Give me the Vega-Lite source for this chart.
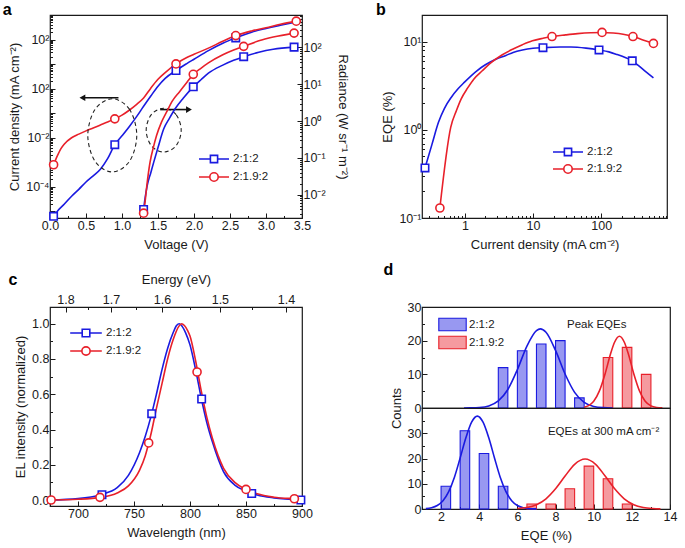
{
  "$schema": "https://vega.github.io/schema/vega-lite/v6.json",
  "padding": {"left": 2, "top": 1, "right": 0, "bottom": 0},
  "background": "white",
  "datasets": {
    "aJ": [
      {"s":"2:1:2","V":0.05,"J":6.31e-6},{"s":"2:1:2","V":0.1,"J":1.0e-5},{"s":"2:1:2","V":0.2,"J":2.0e-5},{"s":"2:1:2","V":0.3,"J":4.17e-5},{"s":"2:1:2","V":0.4,"J":7.94e-5},{"s":"2:1:2","V":0.5,"J":1.58e-4},{"s":"2:1:2","V":0.6,"J":2.82e-4},{"s":"2:1:2","V":0.7,"J":5.25e-4},{"s":"2:1:2","V":0.8,"J":1.41e-3},{"s":"2:1:2","V":0.9,"J":5.25e-3},{"s":"2:1:2","V":1.0,"J":0.012},{"s":"2:1:2","V":1.1,"J":0.0282},{"s":"2:1:2","V":1.2,"J":0.0708},{"s":"2:1:2","V":1.3,"J":0.191},{"s":"2:1:2","V":1.4,"J":0.501},{"s":"2:1:2","V":1.5,"J":1.26},{"s":"2:1:2","V":1.6,"J":2.63},{"s":"2:1:2","V":1.75,"J":5.5},{"s":"2:1:2","V":1.9,"J":10.5},{"s":"2:1:2","V":2.0,"J":15.8},{"s":"2:1:2","V":2.2,"J":35.5},{"s":"2:1:2","V":2.4,"J":70.8},{"s":"2:1:2","V":2.58,"J":117},{"s":"2:1:2","V":2.8,"J":200},{"s":"2:1:2","V":3.0,"J":282},{"s":"2:1:2","V":3.2,"J":380},{"s":"2:1:2","V":3.42,"J":525},
      {"s":"2:1.9:2","V":0.05,"J":7.94e-4},{"s":"2:1.9:2","V":0.1,"J":1.78e-3},{"s":"2:1.9:2","V":0.15,"J":3.55e-3},{"s":"2:1.9:2","V":0.2,"J":5.62e-3},{"s":"2:1.9:2","V":0.3,"J":0.01},{"s":"2:1.9:2","V":0.4,"J":0.0141},{"s":"2:1.9:2","V":0.5,"J":0.0191},{"s":"2:1.9:2","V":0.6,"J":0.0251},{"s":"2:1.9:2","V":0.7,"J":0.0331},{"s":"2:1.9:2","V":0.8,"J":0.0437},{"s":"2:1.9:2","V":0.9,"J":0.0589},{"s":"2:1.9:2","V":1.0,"J":0.0832},{"s":"2:1.9:2","V":1.1,"J":0.132},{"s":"2:1.9:2","V":1.2,"J":0.224},{"s":"2:1.9:2","V":1.3,"J":0.417},{"s":"2:1.9:2","V":1.4,"J":1.05},{"s":"2:1.9:2","V":1.5,"J":2.4},{"s":"2:1.9:2","V":1.6,"J":4.47},{"s":"2:1.9:2","V":1.75,"J":10.2},{"s":"2:1.9:2","V":1.9,"J":18.6},{"s":"2:1.9:2","V":2.0,"J":25.1},{"s":"2:1.9:2","V":2.2,"J":44.7},{"s":"2:1.9:2","V":2.4,"J":85.1},{"s":"2:1.9:2","V":2.58,"J":145},{"s":"2:1.9:2","V":2.8,"J":224},{"s":"2:1.9:2","V":3.0,"J":302},{"s":"2:1.9:2","V":3.2,"J":417},{"s":"2:1.9:2","V":3.42,"J":562}
    ],
    "aJm": [
      {"s":"2:1:2","V":0.05,"J":6.31e-6},{"s":"2:1:2","V":0.9,"J":5.25e-3},{"s":"2:1:2","V":1.75,"J":5.5},{"s":"2:1:2","V":2.58,"J":117},
      {"s":"2:1.9:2","V":0.05,"J":7.94e-4},{"s":"2:1.9:2","V":0.9,"J":0.0589},{"s":"2:1.9:2","V":1.75,"J":10.2},{"s":"2:1.9:2","V":2.58,"J":145},{"s":"2:1.9:2","V":3.42,"J":562}
    ],
    "aR": [
      {"s":"2:1:2","V":1.3,"R":3.98e-3},{"s":"2:1:2","V":1.32,"R":7.94e-3},{"s":"2:1:2","V":1.35,"R":0.0178},{"s":"2:1:2","V":1.4,"R":0.0398},{"s":"2:1:2","V":1.44,"R":0.0759},{"s":"2:1:2","V":1.5,"R":0.191},{"s":"2:1:2","V":1.58,"R":0.617},{"s":"2:1:2","V":1.66,"R":1.2},{"s":"2:1:2","V":1.74,"R":2.19},{"s":"2:1:2","V":1.85,"R":4.17},{"s":"2:1:2","V":1.99,"R":8.51},{"s":"2:1:2","V":2.1,"R":13.5},{"s":"2:1:2","V":2.2,"R":20.0},{"s":"2:1:2","V":2.4,"R":33.1},{"s":"2:1:2","V":2.55,"R":44.7},{"s":"2:1:2","V":2.69,"R":56.2},{"s":"2:1:2","V":2.9,"R":74.1},{"s":"2:1:2","V":3.1,"R":89.1},{"s":"2:1:2","V":3.39,"R":102},
      {"s":"2:1.9:2","V":1.3,"R":3.16e-3},{"s":"2:1.9:2","V":1.32,"R":6.31e-3},{"s":"2:1.9:2","V":1.345,"R":0.0178},{"s":"2:1.9:2","V":1.39,"R":0.0776},{"s":"2:1.9:2","V":1.44,"R":0.209},{"s":"2:1.9:2","V":1.48,"R":0.407},{"s":"2:1.9:2","V":1.55,"R":0.955},{"s":"2:1.9:2","V":1.62,"R":1.78},{"s":"2:1.9:2","V":1.7,"R":3.55},{"s":"2:1.9:2","V":1.8,"R":6.31},{"s":"2:1.9:2","V":1.9,"R":11.2},{"s":"2:1.9:2","V":1.99,"R":18.6},{"s":"2:1.9:2","V":2.1,"R":27.5},{"s":"2:1.9:2","V":2.2,"R":38.0},{"s":"2:1.9:2","V":2.4,"R":63.1},{"s":"2:1.9:2","V":2.55,"R":85.1},{"s":"2:1.9:2","V":2.69,"R":107},{"s":"2:1.9:2","V":2.9,"R":151},{"s":"2:1.9:2","V":3.1,"R":191},{"s":"2:1.9:2","V":3.39,"R":245}
    ],
    "aRm": [
      {"s":"2:1:2","V":1.3,"R":3.98e-3},{"s":"2:1:2","V":1.99,"R":8.51},{"s":"2:1:2","V":2.69,"R":56.2},{"s":"2:1:2","V":3.39,"R":102},
      {"s":"2:1.9:2","V":1.3,"R":3.16e-3},{"s":"2:1.9:2","V":1.99,"R":18.6},{"s":"2:1.9:2","V":2.69,"R":107},{"s":"2:1.9:2","V":3.39,"R":245}
    ],
    "aEll": [
      {"id":"L","k":0,"V":1.205,"J":0.0126},{"id":"L","k":1,"V":1.105,"J":0.1426},{"id":"L","k":2,"V":0.865,"J":0.389},{"id":"L","k":3,"V":0.625,"J":0.1426},{"id":"L","k":4,"V":0.525,"J":0.0126},{"id":"L","k":5,"V":0.625,"J":1.11e-3},{"id":"L","k":6,"V":0.865,"J":4.07e-4},{"id":"L","k":7,"V":1.105,"J":1.11e-3},
      {"id":"R","k":0,"V":1.822,"J":0.0204},{"id":"R","k":1,"V":1.751,"J":0.0875},{"id":"R","k":2,"V":1.579,"J":0.16},{"id":"R","k":3,"V":1.407,"J":0.0875},{"id":"R","k":4,"V":1.336,"J":0.0204},{"id":"R","k":5,"V":1.407,"J":4.76e-3},{"id":"R","k":6,"V":1.579,"J":2.61e-3},{"id":"R","k":7,"V":1.751,"J":4.76e-3}
    ],
    "bC": [
      {"s":"2:1:2","J":0.26,"E":0.37},{"s":"2:1:2","J":0.33,"E":0.69},{"s":"2:1:2","J":0.41,"E":1.22},{"s":"2:1:2","J":0.5,"E":1.75},{"s":"2:1:2","J":0.63,"E":2.34},{"s":"2:1:2","J":0.8,"E":2.95},{"s":"2:1:2","J":0.98,"E":3.47},{"s":"2:1:2","J":1.5,"E":4.7},{"s":"2:1:2","J":2.0,"E":5.5},{"s":"2:1:2","J":2.9,"E":6.4},{"s":"2:1:2","J":4.0,"E":7.0},{"s":"2:1:2","J":5.1,"E":7.6},{"s":"2:1:2","J":7.0,"E":8.1},{"s":"2:1:2","J":10,"E":8.45},{"s":"2:1:2","J":14,"E":8.6},{"s":"2:1:2","J":25,"E":8.75},{"s":"2:1:2","J":36,"E":8.75},{"s":"2:1:2","J":60,"E":8.5},{"s":"2:1:2","J":93,"E":8.1},{"s":"2:1:2","J":130,"E":7.7},{"s":"2:1:2","J":170,"E":7.2},{"s":"2:1:2","J":230,"E":6.6},{"s":"2:1:2","J":286,"E":6.1},{"s":"2:1:2","J":350,"E":5.4},{"s":"2:1:2","J":450,"E":4.6},{"s":"2:1:2","J":585,"E":3.9},
      {"s":"2:1.9:2","J":0.43,"E":0.13},{"s":"2:1.9:2","J":0.62,"E":1.07},{"s":"2:1.9:2","J":0.75,"E":1.65},{"s":"2:1.9:2","J":0.88,"E":2.24},{"s":"2:1.9:2","J":1.1,"E":3.0},{"s":"2:1.9:2","J":1.36,"E":3.8},{"s":"2:1.9:2","J":1.8,"E":4.7},{"s":"2:1.9:2","J":2.35,"E":5.7},{"s":"2:1.9:2","J":3.5,"E":7.1},{"s":"2:1.9:2","J":5.1,"E":8.3},{"s":"2:1.9:2","J":7,"E":9.3},{"s":"2:1.9:2","J":9.8,"E":10.3},{"s":"2:1.9:2","J":14,"E":11.0},{"s":"2:1.9:2","J":19,"E":11.5},{"s":"2:1.9:2","J":30,"E":12.0},{"s":"2:1.9:2","J":45,"E":12.4},{"s":"2:1.9:2","J":70,"E":12.7},{"s":"2:1.9:2","J":103,"E":12.8},{"s":"2:1.9:2","J":150,"E":12.6},{"s":"2:1.9:2","J":210,"E":12.2},{"s":"2:1.9:2","J":293,"E":11.5},{"s":"2:1.9:2","J":400,"E":10.6},{"s":"2:1.9:2","J":585,"E":9.6}
    ],
    "bM": [
      {"s":"2:1:2","J":0.26,"E":0.37},{"s":"2:1:2","J":14,"E":8.6},{"s":"2:1:2","J":93,"E":8.1},{"s":"2:1:2","J":286,"E":6.1},
      {"s":"2:1.9:2","J":0.43,"E":0.13},{"s":"2:1.9:2","J":19,"E":11.5},{"s":"2:1.9:2","J":103,"E":12.8},{"s":"2:1.9:2","J":293,"E":11.5},{"s":"2:1.9:2","J":585,"E":9.6}
    ],
    "cC": [
      {"s":"2:1:2","nm":675,"I":0.0},{"s":"2:1:2","nm":700,"I":0.008},{"s":"2:1:2","nm":720,"I":0.03},{"s":"2:1:2","nm":735,"I":0.07},{"s":"2:1:2","nm":745,"I":0.14},{"s":"2:1:2","nm":755,"I":0.27},{"s":"2:1:2","nm":760,"I":0.36},{"s":"2:1:2","nm":765,"I":0.47},{"s":"2:1:2","nm":770,"I":0.6},{"s":"2:1:2","nm":775,"I":0.74},{"s":"2:1:2","nm":780,"I":0.86},{"s":"2:1:2","nm":785,"I":0.95},{"s":"2:1:2","nm":788,"I":0.99},{"s":"2:1:2","nm":790.5,"I":1.0},{"s":"2:1:2","nm":793,"I":0.985},{"s":"2:1:2","nm":796,"I":0.95},{"s":"2:1:2","nm":800,"I":0.88},{"s":"2:1:2","nm":805,"I":0.74},{"s":"2:1:2","nm":810,"I":0.58},{"s":"2:1:2","nm":815,"I":0.44},{"s":"2:1:2","nm":820,"I":0.33},{"s":"2:1:2","nm":830,"I":0.16},{"s":"2:1:2","nm":840,"I":0.085},{"s":"2:1:2","nm":850,"I":0.05},{"s":"2:1:2","nm":860,"I":0.028},{"s":"2:1:2","nm":875,"I":0.012},{"s":"2:1:2","nm":899,"I":0.001},
      {"s":"2:1.9:2","nm":676,"I":0.0},{"s":"2:1.9:2","nm":700,"I":0.004},{"s":"2:1.9:2","nm":720,"I":0.015},{"s":"2:1.9:2","nm":735,"I":0.04},{"s":"2:1.9:2","nm":745,"I":0.08},{"s":"2:1.9:2","nm":755,"I":0.17},{"s":"2:1.9:2","nm":760,"I":0.25},{"s":"2:1.9:2","nm":763,"I":0.32},{"s":"2:1.9:2","nm":765,"I":0.37},{"s":"2:1.9:2","nm":770,"I":0.52},{"s":"2:1.9:2","nm":775,"I":0.66},{"s":"2:1.9:2","nm":780,"I":0.8},{"s":"2:1.9:2","nm":785,"I":0.91},{"s":"2:1.9:2","nm":790,"I":0.985},{"s":"2:1.9:2","nm":792.5,"I":1.0},{"s":"2:1.9:2","nm":795,"I":0.99},{"s":"2:1.9:2","nm":798,"I":0.96},{"s":"2:1.9:2","nm":800,"I":0.93},{"s":"2:1.9:2","nm":805,"I":0.79},{"s":"2:1.9:2","nm":810,"I":0.62},{"s":"2:1.9:2","nm":815,"I":0.47},{"s":"2:1.9:2","nm":820,"I":0.35},{"s":"2:1.9:2","nm":830,"I":0.18},{"s":"2:1.9:2","nm":840,"I":0.1},{"s":"2:1.9:2","nm":850,"I":0.06},{"s":"2:1.9:2","nm":860,"I":0.035},{"s":"2:1.9:2","nm":875,"I":0.016},{"s":"2:1.9:2","nm":893,"I":0.007},{"s":"2:1.9:2","nm":900,"I":0.004}
    ],
    "cM": [
      {"s":"2:1:2","nm":721.4,"I":0.03},{"s":"2:1:2","nm":765.8,"I":0.49},{"s":"2:1:2","nm":810.4,"I":0.573},{"s":"2:1:2","nm":855.1,"I":0.037},{"s":"2:1:2","nm":899,"I":0.0},
      {"s":"2:1.9:2","nm":676,"I":0.0},{"s":"2:1.9:2","nm":719.6,"I":0.015},{"s":"2:1.9:2","nm":763.1,"I":0.324},{"s":"2:1.9:2","nm":806.3,"I":0.726},{"s":"2:1.9:2","nm":850,"I":0.06},{"s":"2:1.9:2","nm":893.2,"I":0.007}
    ],
    "dBars": [
      {"sub":"peak","s":"2:1:2","lo":5,"hi":5.5,"n":12},{"sub":"peak","s":"2:1:2","lo":6,"hi":6.5,"n":17},{"sub":"peak","s":"2:1:2","lo":7,"hi":7.5,"n":19},{"sub":"peak","s":"2:1:2","lo":8,"hi":8.5,"n":20},{"sub":"peak","s":"2:1:2","lo":9,"hi":9.5,"n":3},
      {"sub":"peak","s":"2:1.9:2","lo":10.5,"hi":11,"n":15},{"sub":"peak","s":"2:1.9:2","lo":11.5,"hi":12,"n":18},{"sub":"peak","s":"2:1.9:2","lo":12.5,"hi":13,"n":10},
      {"sub":"300","s":"2:1:2","lo":2,"hi":2.5,"n":9},{"sub":"300","s":"2:1:2","lo":3,"hi":3.5,"n":31},{"sub":"300","s":"2:1:2","lo":4,"hi":4.5,"n":22},{"sub":"300","s":"2:1:2","lo":5,"hi":5.5,"n":9},
      {"sub":"300","s":"2:1.9:2","lo":6.5,"hi":7,"n":2},{"sub":"300","s":"2:1.9:2","lo":7.5,"hi":8,"n":2},{"sub":"300","s":"2:1.9:2","lo":8.5,"hi":9,"n":8},{"sub":"300","s":"2:1.9:2","lo":9.5,"hi":10,"n":17},{"sub":"300","s":"2:1.9:2","lo":10.5,"hi":11,"n":12},{"sub":"300","s":"2:1.9:2","lo":11.5,"hi":12,"n":2}
    ],
    "dFit": [
      {"sub":"peak","s":"2:1:2","x":3.2,"n":0.0},{"sub":"peak","s":"2:1:2","x":3.5,"n":0.03},{"sub":"peak","s":"2:1:2","x":4.0,"n":0.14},{"sub":"peak","s":"2:1:2","x":4.5,"n":0.61},{"sub":"peak","s":"2:1:2","x":5.0,"n":2.1},{"sub":"peak","s":"2:1:2","x":5.5,"n":5.5},{"sub":"peak","s":"2:1:2","x":6.0,"n":11.4},{"sub":"peak","s":"2:1:2","x":6.5,"n":18.4},{"sub":"peak","s":"2:1:2","x":7.0,"n":23.0},{"sub":"peak","s":"2:1:2","x":7.2,"n":23.5},{"sub":"peak","s":"2:1:2","x":7.5,"n":22.5},{"sub":"peak","s":"2:1:2","x":8.0,"n":17.1},{"sub":"peak","s":"2:1:2","x":8.5,"n":10.1},{"sub":"peak","s":"2:1:2","x":9.0,"n":4.65},{"sub":"peak","s":"2:1:2","x":9.5,"n":1.67},{"sub":"peak","s":"2:1:2","x":10.0,"n":0.47},{"sub":"peak","s":"2:1:2","x":10.5,"n":0.1},{"sub":"peak","s":"2:1:2","x":11.0,"n":0.02},
      {"sub":"peak","s":"2:1.9:2","x":9.5,"n":0.25},{"sub":"peak","s":"2:1.9:2","x":9.8,"n":0.94},{"sub":"peak","s":"2:1.9:2","x":10.0,"n":1.99},{"sub":"peak","s":"2:1.9:2","x":10.3,"n":5.08},{"sub":"peak","s":"2:1.9:2","x":10.6,"n":10.2},{"sub":"peak","s":"2:1.9:2","x":10.9,"n":16.4},{"sub":"peak","s":"2:1.9:2","x":11.1,"n":19.6},{"sub":"peak","s":"2:1.9:2","x":11.35,"n":21.3},{"sub":"peak","s":"2:1.9:2","x":11.6,"n":19.6},{"sub":"peak","s":"2:1.9:2","x":11.8,"n":16.4},{"sub":"peak","s":"2:1.9:2","x":12.1,"n":10.2},{"sub":"peak","s":"2:1.9:2","x":12.4,"n":5.08},{"sub":"peak","s":"2:1.9:2","x":12.7,"n":1.99},{"sub":"peak","s":"2:1.9:2","x":13.0,"n":0.62},{"sub":"peak","s":"2:1.9:2","x":13.3,"n":0.15},{"sub":"peak","s":"2:1.9:2","x":13.6,"n":0.03},
      {"sub":"300","s":"2:1:2","x":1.2,"n":0.15},{"sub":"300","s":"2:1:2","x":1.5,"n":0.51},{"sub":"300","s":"2:1:2","x":1.8,"n":1.39},{"sub":"300","s":"2:1:2","x":2.1,"n":3.3},{"sub":"300","s":"2:1:2","x":2.4,"n":6.9},{"sub":"300","s":"2:1:2","x":2.7,"n":12.6},{"sub":"300","s":"2:1:2","x":3.0,"n":20.2},{"sub":"300","s":"2:1:2","x":3.3,"n":28.2},{"sub":"300","s":"2:1:2","x":3.6,"n":34.4},{"sub":"300","s":"2:1:2","x":3.9,"n":36.8},{"sub":"300","s":"2:1:2","x":4.2,"n":34.4},{"sub":"300","s":"2:1:2","x":4.5,"n":28.2},{"sub":"300","s":"2:1:2","x":4.8,"n":20.2},{"sub":"300","s":"2:1:2","x":5.1,"n":12.6},{"sub":"300","s":"2:1:2","x":5.4,"n":6.9},{"sub":"300","s":"2:1:2","x":5.7,"n":3.3},{"sub":"300","s":"2:1:2","x":6.0,"n":1.39},{"sub":"300","s":"2:1:2","x":6.3,"n":0.51},{"sub":"300","s":"2:1:2","x":6.6,"n":0.16},{"sub":"300","s":"2:1:2","x":7.0,"n":0.03},
      {"sub":"300","s":"2:1.9:2","x":6.0,"n":0.17},{"sub":"300","s":"2:1.9:2","x":6.5,"n":0.59},{"sub":"300","s":"2:1.9:2","x":7.0,"n":1.69},{"sub":"300","s":"2:1.9:2","x":7.5,"n":4.04},{"sub":"300","s":"2:1.9:2","x":8.0,"n":7.99},{"sub":"300","s":"2:1.9:2","x":8.5,"n":13.05},{"sub":"300","s":"2:1.9:2","x":9.0,"n":17.7},{"sub":"300","s":"2:1.9:2","x":9.55,"n":19.8},{"sub":"300","s":"2:1.9:2","x":10.1,"n":17.7},{"sub":"300","s":"2:1.9:2","x":10.6,"n":13.05},{"sub":"300","s":"2:1.9:2","x":11.1,"n":7.99},{"sub":"300","s":"2:1.9:2","x":11.6,"n":4.04},{"sub":"300","s":"2:1.9:2","x":12.1,"n":1.69},{"sub":"300","s":"2:1.9:2","x":12.6,"n":0.59},{"sub":"300","s":"2:1.9:2","x":13.1,"n":0.17},{"sub":"300","s":"2:1.9:2","x":13.5,"n":0.05}
    ]
  },
  "concat": [
    {
      "title": {"text": "a", "dx": -6, "offset": -9},
      "width": 252, "height": 203,
      "layer": [
        {"layer": [
          {"data": {"name": "aJ"}, "mark": {"type": "line", "strokeWidth": 1.6, "interpolate": "monotone"},
           "encoding": {
             "x": {"field": "V", "type": "quantitative", "scale": {"domain": [0, 3.5], "nice": false, "zero": false},
               "axis": {"values": [0, 0.25, 0.5, 0.75, 1, 1.25, 1.5, 1.75, 2, 2.25, 2.5, 2.75, 3, 3.25, 3.5], "tickCount": 100, "labelExpr": "(datum.value*2) % 1 == 0 ? format(datum.value, '.1f') : ''", "tickSize": {"condition": {"test": "(datum.value*2) % 1 == 0", "value": -5}, "value": -2.5}, "labelOverlap": false, "title": "Voltage (V)"}},
             "y": {"field": "J", "type": "quantitative", "scale": {"type": "log", "domain": [5.4e-6, 1000], "nice": false},
               "axis": {"values": [6e-6,7e-6,8e-6,9e-6,1e-5,2e-5,3e-5,4e-5,5e-5,6e-5,7e-5,8e-5,9e-5,1e-4,2e-4,3e-4,4e-4,5e-4,6e-4,7e-4,8e-4,9e-4,1e-3,2e-3,3e-3,4e-3,5e-3,6e-3,7e-3,8e-3,9e-3,0.01,0.02,0.03,0.04,0.05,0.06,0.07,0.08,0.09,0.1,0.2,0.3,0.4,0.5,0.6,0.7,0.8,0.9,1,2,3,4,5,6,7,8,9,10,20,30,40,50,60,70,80,90,100,200,300,400,500,600,700,800,900,1000], "tickCount": 200,
                 "labelExpr": "datum.value == 100 ? '10²' : datum.value == 1 ? '10²' : datum.value == 0.01 ? '10⁻²' : datum.value == 0.0001 ? '10⁻⁴' : ''",
                 "tickSize": {"condition": {"test": "abs(log(datum.value)/LN10 - round(log(datum.value)/LN10)) < 0.01", "value": -5}, "value": -2.5}, "labelOverlap": false, "title": "Current density (mA cm⁻²)"}},
             "stroke": {"field": "s", "type": "nominal", "scale": {"domain": ["2:1:2", "2:1.9:2"], "range": ["#1a1ae0", "#e8202a"]}, "legend": null}
           }},
          {"data": {"name": "aJm"}, "transform": [{"filter": "datum.s == '2:1:2'"}], "mark": {"type": "point", "shape": "square", "filled": true, "fill": "white", "strokeWidth": 1.6, "size": 55, "opacity": 1},
           "encoding": {
             "x": {"field": "V", "type": "quantitative"},
             "y": {"field": "J", "type": "quantitative"},
             "stroke": {"field": "s", "type": "nominal", "legend": {"values": ["2:1:2"], "title": null, "orient": "none", "legendX": 148, "legendY": 128, "symbolType": "M-1,0H-0.24M0.24,0H1M-0.24,-0.24H0.24V0.24H-0.24Z", "symbolSize": 900, "symbolFillColor": "white", "symbolStrokeWidth": 1.6, "labelOffset": 3, "labelFontSize": 11.5}}
           }},
          {"data": {"name": "aJm"}, "transform": [{"filter": "datum.s == '2:1.9:2'"}], "mark": {"type": "point", "shape": "circle", "filled": true, "fill": "white", "strokeWidth": 1.6, "size": 65, "opacity": 1},
           "encoding": {
             "x": {"field": "V", "type": "quantitative"},
             "y": {"field": "J", "type": "quantitative"},
             "stroke": {"field": "s", "type": "nominal", "legend": {"values": ["2:1.9:2"], "title": null, "orient": "none", "legendX": 148, "legendY": 146, "symbolType": "M-1,0H-0.28M0.28,0H1M-0.28,0A0.28,0.28 0 1,1 0.28,0A0.28,0.28 0 1,1 -0.28,0Z", "symbolSize": 900, "symbolFillColor": "white", "symbolStrokeWidth": 1.6, "labelOffset": 3, "labelFontSize": 11.5}}
           }},
          {"data": {"name": "aEll"}, "mark": {"type": "line", "interpolate": "cardinal-closed", "strokeDash": [4, 3], "color": "#222", "strokeWidth": 1.1},
           "encoding": {
             "x": {"field": "V", "type": "quantitative"},
             "y": {"field": "J", "type": "quantitative"},
             "detail": {"field": "id", "type": "nominal"},
             "order": {"field": "k", "type": "quantitative"}
           }},
          {"data": {"values": [{}]}, "mark": {"type": "rule", "color": "#111", "strokeWidth": 1.6},
           "encoding": {"x": {"datum": 0.45, "type": "quantitative"}, "x2": {"datum": 0.951}, "y": {"datum": 0.427, "type": "quantitative"}}},
          {"data": {"values": [{}]}, "mark": {"type": "rule", "color": "#111", "strokeWidth": 1.6},
           "encoding": {"x": {"datum": 1.53, "type": "quantitative"}, "x2": {"datum": 1.93}, "y": {"datum": 0.141, "type": "quantitative"}}},
          {"data": {"values": [{}]}, "mark": {"type": "point", "shape": "triangle-left", "filled": true, "color": "#111", "size": 45, "opacity": 1},
           "encoding": {"x": {"datum": 0.45, "type": "quantitative"}, "y": {"datum": 0.427, "type": "quantitative"}}},
          {"data": {"values": [{}]}, "mark": {"type": "point", "shape": "triangle-right", "filled": true, "color": "#111", "size": 45, "opacity": 1},
           "encoding": {"x": {"datum": 1.93, "type": "quantitative"}, "y": {"datum": 0.141, "type": "quantitative"}}}
        ], "resolve": {"legend": {"stroke": "independent"}}},
        {"layer": [
          {"data": {"name": "aR"}, "mark": {"type": "line", "strokeWidth": 1.6, "interpolate": "monotone"},
           "encoding": {
             "x": {"field": "V", "type": "quantitative"},
             "y": {"field": "R", "type": "quantitative", "scale": {"type": "log", "domain": [2.34e-3, 760], "nice": false},
               "axis": {"orient": "right", "values": [3e-3,4e-3,5e-3,6e-3,7e-3,8e-3,9e-3,0.01,0.02,0.03,0.04,0.05,0.06,0.07,0.08,0.09,0.1,0.2,0.3,0.4,0.5,0.6,0.7,0.8,0.9,1,2,3,4,5,6,7,8,9,10,20,30,40,50,60,70,80,90,100,200,300,400,500,600,700], "tickCount": 200,
                 "labelExpr": "datum.value == 100 ? '10²' : datum.value == 10 ? '10¹' : datum.value == 1 ? '10⁰' : datum.value == 0.1 ? '10⁻¹' : datum.value == 0.01 ? '10⁻²' : ''",
                 "tickSize": {"condition": {"test": "abs(log(datum.value)/LN10 - round(log(datum.value)/LN10)) < 0.01", "value": -5}, "value": -2.5}, "labelOverlap": false, "title": "Radiance (W sr⁻¹ m⁻²)", "titlePadding": 10}},
             "stroke": {"field": "s", "type": "nominal", "legend": null}
           }},
          {"data": {"name": "aRm"}, "transform": [{"filter": "datum.s == '2:1:2'"}], "mark": {"type": "point", "shape": "square", "filled": true, "fill": "white", "strokeWidth": 1.6, "size": 55, "opacity": 1},
           "encoding": {
             "x": {"field": "V", "type": "quantitative"},
             "y": {"field": "R", "type": "quantitative"},
             "stroke": {"field": "s", "type": "nominal", "legend": null}
           }},
          {"data": {"name": "aRm"}, "transform": [{"filter": "datum.s == '2:1.9:2'"}], "mark": {"type": "point", "shape": "circle", "filled": true, "fill": "white", "strokeWidth": 1.6, "size": 65, "opacity": 1},
           "encoding": {
             "x": {"field": "V", "type": "quantitative"},
             "y": {"field": "R", "type": "quantitative"},
             "stroke": {"field": "s", "type": "nominal", "legend": null}
           }}
        ]}
      ],
      "resolve": {"scale": {"y": "independent"}, "axis": {"y": "independent"}, "legend": {"stroke": "independent"}}
    },
    {
      "title": {"text": "b", "dx": -6, "offset": -9},
      "width": 245, "height": 203,
      "layer": [
        {"data": {"name": "bC"}, "mark": {"type": "line", "strokeWidth": 1.6, "interpolate": "monotone"},
         "encoding": {
           "x": {"field": "J", "type": "quantitative", "scale": {"type": "log", "domain": [0.235, 925], "nice": false},
             "axis": {"values": [0.3,0.4,0.5,0.6,0.7,0.8,0.9,1,2,3,4,5,6,7,8,9,10,20,30,40,50,60,70,80,90,100,200,300,400,500,600,700,800,900], "tickCount": 200, "labelExpr": "datum.value == 1 ? '1' : datum.value == 10 ? '10' : datum.value == 100 ? '100' : ''",
               "tickSize": {"condition": {"test": "abs(log(datum.value)/LN10 - round(log(datum.value)/LN10)) < 0.01", "value": -5}, "value": -2.5}, "labelOverlap": false, "title": "Current density (mA cm⁻²)"}},
           "y": {"field": "E", "type": "quantitative", "scale": {"type": "log", "domain": [0.1, 20.2], "nice": false},
             "axis": {"values": [0.1,0.2,0.3,0.4,0.5,0.6,0.7,0.8,0.9,1,2,3,4,5,6,7,8,9,10,20], "tickCount": 200, "labelExpr": "datum.value == 10 ? '10¹' : datum.value == 1 ? '10⁰' : datum.value == 0.1 ? '10⁻¹' : ''",
               "tickSize": {"condition": {"test": "abs(log(datum.value)/LN10 - round(log(datum.value)/LN10)) < 0.01", "value": -5}, "value": -2.5}, "labelOverlap": false, "title": "EQE (%)"}},
           "stroke": {"field": "s", "type": "nominal", "scale": {"domain": ["2:1:2", "2:1.9:2"], "range": ["#1a1ae0", "#e8202a"]}, "legend": null}
         }},
        {"data": {"name": "bM"}, "transform": [{"filter": "datum.s == '2:1:2'"}], "mark": {"type": "point", "shape": "square", "filled": true, "fill": "white", "strokeWidth": 1.6, "size": 55, "opacity": 1},
         "encoding": {
           "x": {"field": "J", "type": "quantitative"},
           "y": {"field": "E", "type": "quantitative"},
           "stroke": {"field": "s", "type": "nominal", "legend": {"values": ["2:1:2"], "title": null, "orient": "none", "legendX": 130, "legendY": 121, "symbolType": "M-1,0H-0.24M0.24,0H1M-0.24,-0.24H0.24V0.24H-0.24Z", "symbolSize": 900, "symbolFillColor": "white", "symbolStrokeWidth": 1.6, "labelOffset": 3, "labelFontSize": 11.5}}
         }},
        {"data": {"name": "bM"}, "transform": [{"filter": "datum.s == '2:1.9:2'"}], "mark": {"type": "point", "shape": "circle", "filled": true, "fill": "white", "strokeWidth": 1.6, "size": 65, "opacity": 1},
         "encoding": {
           "x": {"field": "J", "type": "quantitative"},
           "y": {"field": "E", "type": "quantitative"},
           "stroke": {"field": "s", "type": "nominal", "legend": {"values": ["2:1.9:2"], "title": null, "orient": "none", "legendX": 130, "legendY": 138, "symbolType": "M-1,0H-0.28M0.28,0H1M-0.28,0A0.28,0.28 0 1,1 0.28,0A0.28,0.28 0 1,1 -0.28,0Z", "symbolSize": 900, "symbolFillColor": "white", "symbolStrokeWidth": 1.6, "labelOffset": 3, "labelFontSize": 11.5}}
         }}
      ],
      "resolve": {"legend": {"stroke": "independent"}}
    },
    {
      "title": {"text": "c", "dx": -6, "offset": -14},
      "width": 252, "height": 199,
      "layer": [
        {"layer": [
          {"data": {"name": "cC"}, "mark": {"type": "line", "strokeWidth": 1.6, "interpolate": "monotone"},
           "encoding": {
             "x": {"field": "nm", "type": "quantitative", "scale": {"domain": [675, 900], "nice": false, "zero": false},
               "axis": {"values": [675, 700, 725, 750, 775, 800, 825, 850, 875, 900], "tickCount": 100, "labelExpr": "datum.value % 50 == 0 ? format(datum.value, 'd') : ''", "tickSize": {"condition": {"test": "datum.value % 50 == 0", "value": -5}, "value": -2.5}, "labelOverlap": false, "title": "Wavelength (nm)"}},
             "y": {"field": "I", "type": "quantitative", "scale": {"domain": [-0.034, 1.095], "nice": false, "zero": false},
               "axis": {"values": [0, 0.1, 0.2, 0.3, 0.4, 0.5, 0.6, 0.7, 0.8, 0.9, 1.0], "tickCount": 100, "labelExpr": "round(datum.value*10) % 2 == 0 ? format(datum.value, '.1f') : ''", "tickSize": {"condition": {"test": "round(datum.value*10) % 2 == 0", "value": -5}, "value": -2.5}, "labelOverlap": false, "title": "EL intensity (normalized)"}},
             "stroke": {"field": "s", "type": "nominal", "scale": {"domain": ["2:1:2", "2:1.9:2"], "range": ["#1a1ae0", "#e8202a"]}, "legend": null}
           }},
          {"data": {"name": "cM"}, "transform": [{"filter": "datum.s == '2:1:2'"}], "mark": {"type": "point", "shape": "square", "filled": true, "fill": "white", "strokeWidth": 1.6, "size": 55, "opacity": 1},
           "encoding": {
             "x": {"field": "nm", "type": "quantitative"},
             "y": {"field": "I", "type": "quantitative"},
             "stroke": {"field": "s", "type": "nominal", "legend": {"values": ["2:1:2"], "title": null, "orient": "none", "legendX": 19, "legendY": 9, "symbolType": "M-1,0H-0.24M0.24,0H1M-0.24,-0.24H0.24V0.24H-0.24Z", "symbolSize": 1000, "symbolFillColor": "white", "symbolStrokeWidth": 1.6, "labelOffset": 3, "labelFontSize": 11.5}}
           }},
          {"data": {"name": "cM"}, "transform": [{"filter": "datum.s == '2:1.9:2'"}], "mark": {"type": "point", "shape": "circle", "filled": true, "fill": "white", "strokeWidth": 1.6, "size": 65, "opacity": 1},
           "encoding": {
             "x": {"field": "nm", "type": "quantitative"},
             "y": {"field": "I", "type": "quantitative"},
             "stroke": {"field": "s", "type": "nominal", "legend": {"values": ["2:1.9:2"], "title": null, "orient": "none", "legendX": 19, "legendY": 27, "symbolType": "M-1,0H-0.26M0.26,0H1M-0.26,0A0.26,0.26 0 1,1 0.26,0A0.26,0.26 0 1,1 -0.26,0Z", "symbolSize": 1000, "symbolFillColor": "white", "symbolStrokeWidth": 1.6, "labelOffset": 3, "labelFontSize": 11.5}}
           }}
        ], "resolve": {"legend": {"stroke": "independent"}}},
        {"data": {"name": "cC"}, "mark": {"type": "line", "strokeOpacity": 0},
         "encoding": {
           "x": {"field": "nm", "type": "quantitative",
             "axis": {"orient": "top", "values": [688.89, 708.57, 729.41, 751.52, 775, 800, 826.67, 855.17, 885.71], "tickCount": 100, "labelExpr": "abs(round(12400/datum.value) - 12400/datum.value) < 0.02 ? format(1240/datum.value, '.1f') : ''", "tickSize": {"condition": {"test": "abs(round(12400/datum.value) - 12400/datum.value) < 0.02", "value": -5}, "value": -2.5}, "labelOverlap": false, "title": "Energy (eV)"}},
           "y": {"field": "I", "type": "quantitative"}
         }}
      ],
      "resolve": {"axis": {"x": "independent"}, "legend": {"stroke": "independent"}}
    },
    {
      "title": {"text": "d", "dx": -6, "offset": 22},
      "vconcat": [
        {
          "width": 248, "height": 101,
          "layer": [
            {"data": {"name": "dBars"}, "transform": [{"filter": "datum.sub == 'peak' && datum.s == '2:1:2'"}],
             "mark": {"type": "bar", "fillOpacity": 0.45, "strokeWidth": 1.1},
             "encoding": {
               "x": {"field": "lo", "type": "quantitative", "scale": {"domain": [1, 14], "nice": false, "zero": false}, "axis": null},
               "x2": {"field": "hi"},
               "y": {"field": "n", "type": "quantitative", "scale": {"domain": [0, 30], "nice": false},
                 "axis": {"values": [0, 5, 10, 15, 20, 25, 30], "tickCount": 100, "labelExpr": "datum.value % 10 == 0 ? format(datum.value, 'd') : ''", "tickSize": {"condition": {"test": "datum.value % 10 == 0", "value": -5}, "value": -2.5}, "labelOverlap": false, "title": "Counts", "titleY": 101}},
               "y2": {"datum": 0},
               "fill": {"field": "s", "type": "nominal", "scale": {"domain": ["2:1:2", "2:1.9:2"], "range": ["#1a1ae0", "#e8202a"]},
                 "legend": {"values": ["2:1:2"], "title": null, "orient": "none", "legendX": 16, "legendY": 3, "symbolType": "M-1,-0.46H1V0.46H-1Z", "symbolSize": 751, "symbolStrokeWidth": 1.1, "labelOffset": 2, "labelFontSize": 11.5,
                   "encode": {"symbols": {"update": {"fillOpacity": {"value": 0.45}, "size": {"value": 751}}}}}},
               "stroke": {"field": "s", "type": "nominal", "scale": {"domain": ["2:1:2", "2:1.9:2"], "range": ["#1a1ae0", "#e8202a"]},
                 "legend": {"values": ["2:1:2"], "title": null, "orient": "none", "legendX": 16, "legendY": 3, "symbolType": "M-1,-0.46H1V0.46H-1Z", "symbolSize": 751, "symbolStrokeWidth": 1.1, "labelOffset": 2, "labelFontSize": 11.5,
                   "encode": {"symbols": {"update": {"fillOpacity": {"value": 0.45}, "size": {"value": 751}}}}}}
             }},
            {"data": {"name": "dBars"}, "transform": [{"filter": "datum.sub == 'peak' && datum.s == '2:1.9:2'"}],
             "mark": {"type": "bar", "fillOpacity": 0.45, "strokeWidth": 1.1},
             "encoding": {
               "x": {"field": "lo", "type": "quantitative"},
               "x2": {"field": "hi"},
               "y": {"field": "n", "type": "quantitative"},
               "y2": {"datum": 0},
               "fill": {"field": "s", "type": "nominal",
                 "legend": {"values": ["2:1.9:2"], "title": null, "orient": "none", "legendX": 16, "legendY": 21, "symbolType": "M-1,-0.46H1V0.46H-1Z", "symbolSize": 751, "symbolStrokeWidth": 1.1, "labelOffset": 2, "labelFontSize": 11.5,
                   "encode": {"symbols": {"update": {"fillOpacity": {"value": 0.45}, "size": {"value": 751}}}}}},
               "stroke": {"field": "s", "type": "nominal",
                 "legend": {"values": ["2:1.9:2"], "title": null, "orient": "none", "legendX": 16, "legendY": 21, "symbolType": "M-1,-0.46H1V0.46H-1Z", "symbolSize": 751, "symbolStrokeWidth": 1.1, "labelOffset": 2, "labelFontSize": 11.5,
                   "encode": {"symbols": {"update": {"fillOpacity": {"value": 0.45}, "size": {"value": 751}}}}}}
             }},
            {"data": {"name": "dFit"}, "transform": [{"filter": "datum.sub == 'peak'"}],
             "mark": {"type": "line", "interpolate": "monotone", "strokeWidth": 1.6},
             "encoding": {
               "x": {"field": "x", "type": "quantitative"},
               "y": {"field": "n", "type": "quantitative"},
               "stroke": {"field": "s", "type": "nominal", "legend": null}
             }},
            {"data": {"values": [{}]}, "mark": {"type": "text", "text": "Peak EQEs", "align": "left", "baseline": "middle", "fontSize": 11.5, "color": "#1a1a1a"},
             "encoding": {"x": {"datum": 8.6, "type": "quantitative"}, "y": {"datum": 24.6, "type": "quantitative"}}}
          ],
          "resolve": {"legend": {"fill": "independent", "stroke": "independent"}}
        },
        {
          "width": 248, "height": 101,
          "layer": [
            {"data": {"name": "dBars"}, "transform": [{"filter": "datum.sub == '300'"}],
             "mark": {"type": "bar", "fillOpacity": 0.45, "strokeWidth": 1.1},
             "encoding": {
               "x": {"field": "lo", "type": "quantitative", "scale": {"domain": [1, 14], "nice": false, "zero": false},
                 "axis": {"values": [1, 2, 3, 4, 5, 6, 7, 8, 9, 10, 11, 12, 13, 14], "tickCount": 100, "labelExpr": "datum.value % 2 == 0 ? format(datum.value, 'd') : ''", "tickSize": {"condition": {"test": "datum.value % 2 == 0", "value": -5}, "value": -2.5}, "labelOverlap": false, "title": "EQE (%)"}},
               "x2": {"field": "hi"},
               "y": {"field": "n", "type": "quantitative", "scale": {"domain": [0, 40], "nice": false},
                 "axis": {"values": [0, 5, 10, 15, 20, 25, 30, 35], "tickCount": 100, "labelExpr": "datum.value % 10 == 0 ? format(datum.value, 'd') : ''", "tickSize": {"condition": {"test": "datum.value % 10 == 0", "value": -5}, "value": -2.5}, "labelOverlap": false, "title": null}},
               "y2": {"datum": 0},
               "fill": {"field": "s", "type": "nominal", "scale": {"domain": ["2:1:2", "2:1.9:2"], "range": ["#1a1ae0", "#e8202a"]}, "legend": null},
               "stroke": {"field": "s", "type": "nominal", "scale": {"domain": ["2:1:2", "2:1.9:2"], "range": ["#1a1ae0", "#e8202a"]}, "legend": null}
             }},
            {"data": {"name": "dFit"}, "transform": [{"filter": "datum.sub == '300'"}],
             "mark": {"type": "line", "interpolate": "monotone", "strokeWidth": 1.6},
             "encoding": {
               "x": {"field": "x", "type": "quantitative"},
               "y": {"field": "n", "type": "quantitative"},
               "stroke": {"field": "s", "type": "nominal", "legend": null}
             }},
            {"data": {"values": [{}]}, "mark": {"type": "text", "text": "EQEs at 300 mA cm⁻²", "align": "left", "baseline": "middle", "fontSize": 11.5, "color": "#1a1a1a"},
             "encoding": {"x": {"datum": 7.6, "type": "quantitative"}, "y": {"datum": 30.3, "type": "quantitative"}}}
          ]
        }
      ],
      "spacing": 0,
      "bounds": "flush",
      "resolve": {"scale": {"fill": "independent", "stroke": "independent"}, "legend": {"fill": "independent", "stroke": "independent"}}
    }
  ],
  "columns": 2,
  "align": "each",
  "spacing": {"row": 10, "column": 26},
  "resolve": {"scale": {"stroke": "independent", "fill": "independent"}, "legend": {"stroke": "independent", "fill": "independent"}},
  "config": {
    "font": "Liberation Sans",
    "view": {"stroke": "#1a1a1a", "strokeWidth": 1.2},
    "axis": {"domain": false, "grid": false, "ticks": true, "tickSize": -4, "tickColor": "#1a1a1a", "tickWidth": 1, "labelFontSize": 12.5, "labelColor": "#1a1a1a", "labelPadding": 6, "labelFlush": false, "labelOverlap": false, "titleFontSize": 13, "titleFontWeight": "normal", "titleColor": "#1a1a1a", "titlePadding": 4},
    "legend": {"labelFontSize": 11.5, "labelColor": "#1a1a1a", "padding": 0},
    "title": {"fontSize": 16, "fontWeight": "bold", "anchor": "start", "frame": "bounds", "color": "#000"}
  }
}
